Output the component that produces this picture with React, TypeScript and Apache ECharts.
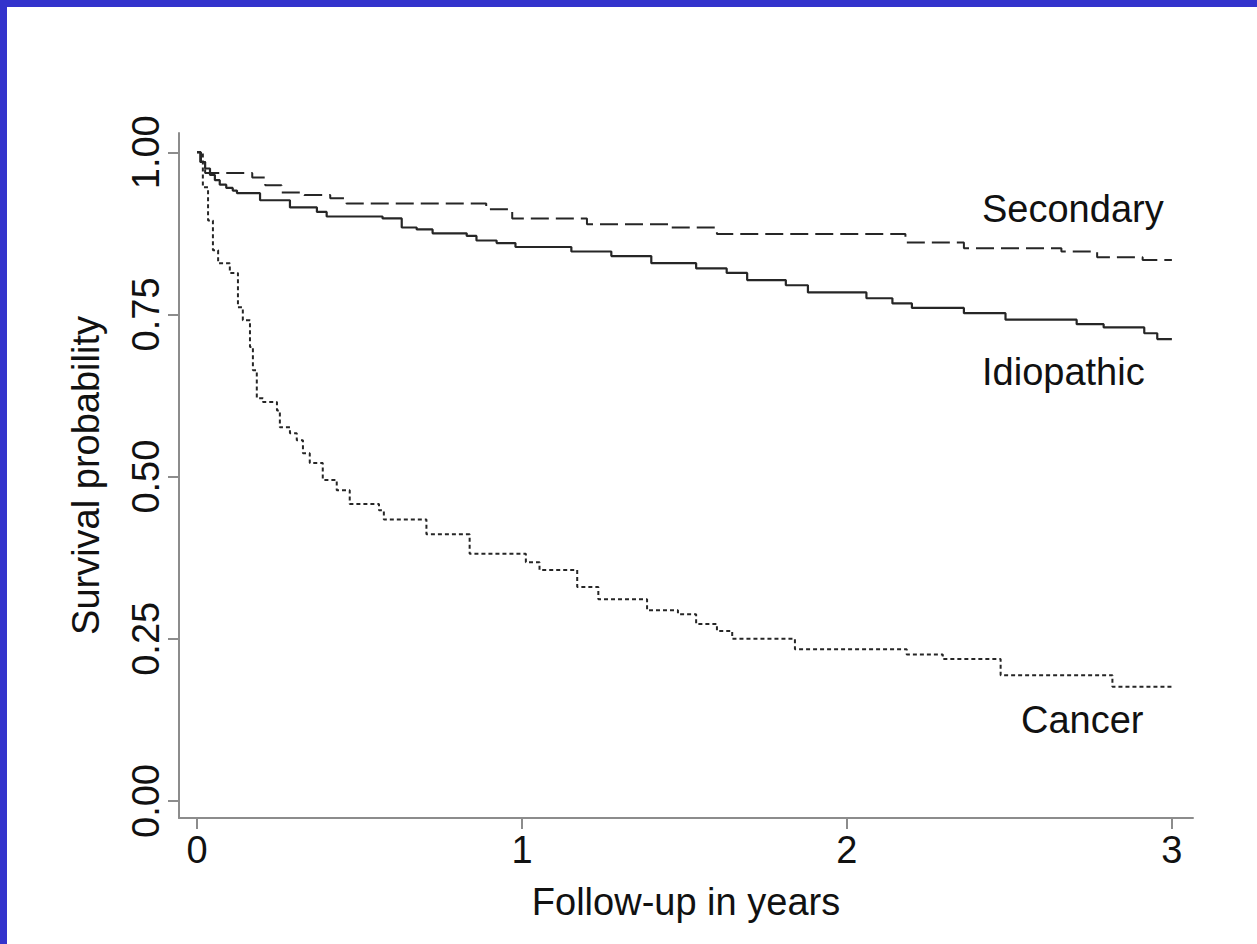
import React, { useEffect, useRef } from "react";
import * as echarts from "echarts";

// Kaplan-Meier step data (time in years, survival probability)
const secondaryT = [0, 0.01, 0.025, 0.17, 0.21, 0.26, 0.33, 0.41, 0.46, 0.89, 0.97, 1.2, 1.45, 1.6, 2.18, 2.36, 2.66, 2.77, 2.91, 3.0];
const secondaryS = [1.0, 0.985, 0.968, 0.961, 0.949, 0.938, 0.934, 0.929, 0.921, 0.912, 0.898, 0.889, 0.884, 0.874, 0.861, 0.852, 0.847, 0.838, 0.834, 0.834];

const idiopathicT = [0, 0.012, 0.025, 0.04, 0.055, 0.07, 0.09, 0.11, 0.123, 0.194, 0.286, 0.369, 0.399, 0.571, 0.63, 0.676, 0.725, 0.83, 0.86, 0.922, 0.98, 1.152, 1.275, 1.398, 1.536, 1.63, 1.693, 1.812, 1.88, 2.06, 2.14, 2.2, 2.36, 2.488, 2.707, 2.79, 2.915, 2.955, 3.0];
const idiopathicS = [1.0, 0.985, 0.975, 0.965, 0.957, 0.95, 0.945, 0.941, 0.937, 0.926, 0.915, 0.908, 0.901, 0.898, 0.884, 0.881, 0.875, 0.871, 0.864, 0.86, 0.854, 0.847, 0.84, 0.829, 0.821, 0.814, 0.803, 0.795, 0.784, 0.775, 0.767, 0.76, 0.752, 0.742, 0.735, 0.73, 0.721, 0.712, 0.712];

const cancerT = [0, 0.018, 0.034, 0.049, 0.065, 0.101, 0.126, 0.141, 0.163, 0.172, 0.184, 0.203, 0.246, 0.255, 0.286, 0.307, 0.326, 0.347, 0.387, 0.43, 0.47, 0.56, 0.575, 0.706, 0.839, 1.012, 1.054, 1.17, 1.235, 1.385, 1.48, 1.536, 1.6, 1.647, 1.84, 2.184, 2.295, 2.473, 2.817, 3.0];
const cancerS = [1.0, 0.946, 0.895, 0.849, 0.829, 0.814, 0.761, 0.741, 0.70, 0.664, 0.621, 0.615, 0.602, 0.576, 0.567, 0.556, 0.536, 0.521, 0.495, 0.479, 0.458, 0.448, 0.434, 0.411, 0.381, 0.368, 0.356, 0.330, 0.311, 0.294, 0.288, 0.273, 0.262, 0.250, 0.234, 0.226, 0.219, 0.194, 0.176, 0.176];

const xTicks = [0, 1, 2, 3];
const yTicks = [0, 0.25, 0.5, 0.75, 1];

const xTitle = "Follow-up in years";
const yTitle = "Survival probability";
const groupLabels = ["Secondary", "Idiopathic", "Cancer"];

const FONT = "Liberation Sans";
const AXIS_COLOR = "#8c8c8c";
const LINE_COLOR = "#262626";

function pairs(t: number[], s: number[]) {
  return t.map((v, i) => [v, s[i]]);
}

export default function App() {
  const ref = useRef<HTMLDivElement>(null);

  useEffect(() => {
    if (!ref.current) return;
    const chart = echarts.init(ref.current, undefined, { renderer: "svg" });
    const labelStyle = { fontFamily: FONT, fontSize: 38, color: "#111" };
    chart.setOption({
      animation: false,
      backgroundColor: "#ffffff",
      grid: { left: 179, top: 133, width: 1014, height: 685, containLabel: false },
      xAxis: {
        type: "value",
        min: -0.0554,
        max: 3.065,
        name: xTitle,
        nameLocation: "middle",
        nameGap: 65,
        nameTextStyle: labelStyle,
        axisLine: { show: true, onZero: false, lineStyle: { color: AXIS_COLOR, width: 2 } },
        axisTick: { show: true, length: 11, customValues: xTicks, lineStyle: { color: AXIS_COLOR, width: 2 } },
        axisLabel: {
          show: true,
          customValues: xTicks,
          margin: 13,
          ...labelStyle,
          formatter: (v: number) => String(v),
        },
        splitLine: { show: false },
      },
      yAxis: {
        type: "value",
        min: -0.0262,
        max: 1.0297,
        name: yTitle,
        nameLocation: "middle",
        nameGap: 74,
        nameRotate: 90,
        nameTextStyle: labelStyle,
        axisLine: { show: true, onZero: false, lineStyle: { color: AXIS_COLOR, width: 2 } },
        axisTick: { show: true, length: 11, customValues: yTicks, lineStyle: { color: AXIS_COLOR, width: 2 } },
        axisLabel: {
          show: true,
          customValues: yTicks,
          rotate: 90,
          margin: 14,
          ...labelStyle,
          formatter: (v: number) => v.toFixed(2),
        },
        splitLine: { show: false },
      },
      series: [
        {
          name: groupLabels[0],
          type: "line",
          step: "end",
          showSymbol: false,
          data: pairs(secondaryT, secondaryS),
          lineStyle: { color: LINE_COLOR, width: 2, type: [18, 7] },
        },
        {
          name: groupLabels[1],
          type: "line",
          step: "end",
          showSymbol: false,
          data: pairs(idiopathicT, idiopathicS),
          lineStyle: { color: LINE_COLOR, width: 2.2, type: "solid" },
        },
        {
          name: groupLabels[2],
          type: "line",
          step: "end",
          showSymbol: false,
          data: pairs(cancerT, cancerS),
          lineStyle: { color: LINE_COLOR, width: 2, type: [4, 3] },
        },
      ],
      graphic: [
        { type: "rect", shape: { x: 0, y: 0, width: 1257, height: 7 }, style: { fill: "#3333cc" }, silent: true },
        { type: "rect", shape: { x: 0, y: 0, width: 7, height: 944 }, style: { fill: "#3333cc" }, silent: true },
        {
          type: "text",
          x: 982,
          y: 209,
          style: { text: groupLabels[0], fontFamily: FONT, fontSize: 38, fill: "#111", align: "left", verticalAlign: "middle" },
        },
        {
          type: "text",
          x: 982,
          y: 372,
          style: { text: groupLabels[1], fontFamily: FONT, fontSize: 38, fill: "#111", align: "left", verticalAlign: "middle" },
        },
        {
          type: "text",
          x: 1021,
          y: 720,
          style: { text: groupLabels[2], fontFamily: FONT, fontSize: 38, fill: "#111", align: "left", verticalAlign: "middle" },
        },
      ],
    });
    return () => chart.dispose();
  }, []);

  return (
    <div
      ref={ref}
      style={{ position: "fixed", left: 0, top: 0, width: 1257, height: 944, background: "#fff" }}
    />
  );
}
